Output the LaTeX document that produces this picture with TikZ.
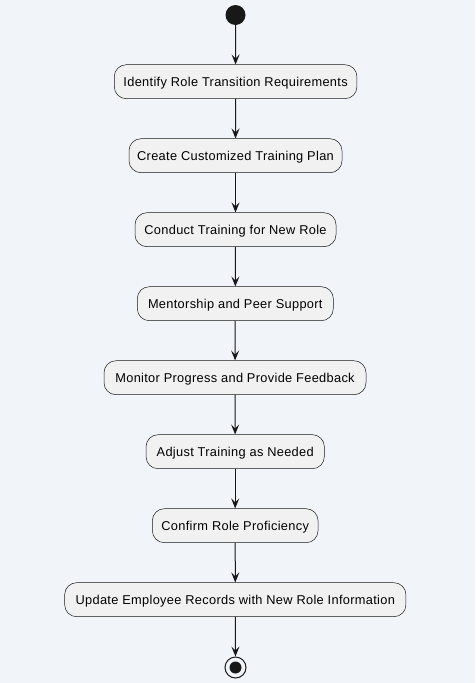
\documentclass[tikz,border=0pt]{standalone}
\usepackage{fontspec}
\setmainfont{Liberation Sans}[LetterSpace=2.5]
\usetikzlibrary{arrows.meta}
\definecolor{bgcol}{RGB}{241,244,249}
\definecolor{boxfill}{RGB}{241,241,241}
\definecolor{ink}{RGB}{24,24,24}
\begin{document}
\begin{tikzpicture}[x=1pt,y=-1pt,
  actbox/.style={draw=ink, line width=0.5pt, fill=boxfill, rounded corners=12pt,
    minimum height=34pt, inner sep=0pt, text height=9.2pt, text depth=0pt,
    font=\fontsize{12.8pt}{15pt}\selectfont, text=black},
  flow/.style={draw=ink, line width=1pt, -{Stealth[length=10pt,width=8pt,inset=4pt]}},
  startdot/.style={circle, fill=ink, draw=none, minimum size=20pt, inner sep=0pt},
  enddot/.style={circle, fill=ink, draw=none, minimum size=12pt, inner sep=0pt},
  endring/.style={circle, draw=ink, line width=1pt, fill=none, minimum size=21pt, inner sep=0pt}]
\useasboundingbox[fill=bgcol] (0,0) rectangle (475,683);
\node[startdot] (start) at (235.5,15) {};
\node[actbox, minimum width=242.7pt] (a1) at (235.6,81.7) {Identify Role Transition Requirements};
\node[actbox, minimum width=213pt] (a2) at (235.5,155.7) {Create Customized Training Plan};
\node[actbox, minimum width=201pt] (a3) at (235.5,229.7) {Conduct Training for New Role};
\node[actbox, minimum width=196pt] (a4) at (235.3,303.7) {Mentorship and Peer Support};
\node[actbox, minimum width=262pt] (a5) at (235,377.7) {Monitor Progress and Provide Feedback};
\node[actbox, minimum width=178.3pt] (a6) at (235.2,451.7) {Adjust Training as Needed};
\node[actbox, minimum width=165.7pt] (a7) at (235.2,525.7) {Confirm Role Proficiency};
\node[actbox, minimum width=341.3pt] (a8) at (235.3,599.7) {Update Employee Records with New Role Information};
\node[endring] (endr) at (235.5,667.5) {};
\node[enddot] (end) at (235.5,667.5) {};
\draw[flow] (start) -- (a1);
\draw[flow] (a1) -- (a2);
\draw[flow] (a2) -- (a3);
\draw[flow] (a3) -- (a4);
\draw[flow] (a4) -- (a5);
\draw[flow] (a5) -- (a6);
\draw[flow] (a6) -- (a7);
\draw[flow] (a7) -- (a8);
\draw[flow] (a8) -- (endr);
\end{tikzpicture}
\end{document}
